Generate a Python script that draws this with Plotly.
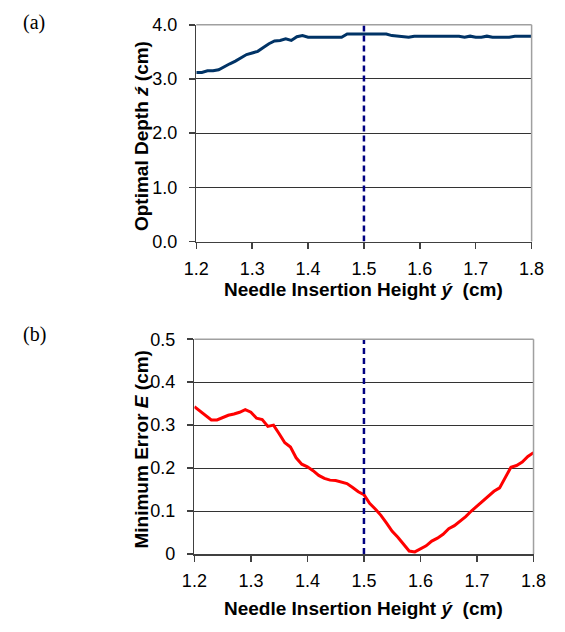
import plotly.graph_objects as go

PAGE_W, PAGE_H = 565, 632
BODY_MARGIN = 8          # default browser body margin around the plot div
W, H = PAGE_W - 2 * BODY_MARGIN, PAGE_H - 2 * BODY_MARGIN

height_y = [1.20, 1.21, 1.22, 1.23, 1.24, 1.25, 1.26, 1.27, 1.28, 1.29,
            1.30, 1.31, 1.32, 1.33, 1.34, 1.35, 1.36, 1.37, 1.38, 1.39,
            1.40, 1.41, 1.42, 1.43, 1.44, 1.45, 1.46, 1.47, 1.48, 1.49,
            1.50, 1.51, 1.52, 1.53, 1.54, 1.55, 1.56, 1.57, 1.58, 1.59,
            1.60, 1.61, 1.62, 1.63, 1.64, 1.65, 1.66, 1.67, 1.68, 1.69,
            1.70, 1.71, 1.72, 1.73, 1.74, 1.75, 1.76, 1.77, 1.78, 1.79,
            1.80]

optimal_depth = [3.12, 3.12, 3.15, 3.15, 3.17, 3.23, 3.28, 3.33, 3.39, 3.45,
                 3.48, 3.51, 3.58, 3.65, 3.70, 3.71, 3.74, 3.71, 3.78, 3.80,
                 3.77, 3.77, 3.77, 3.77, 3.77, 3.77, 3.77, 3.83, 3.83, 3.83,
                 3.83, 3.83, 3.83, 3.83, 3.83, 3.80, 3.79, 3.77, 3.77, 3.79,
                 3.79, 3.79, 3.79, 3.79, 3.79, 3.79, 3.79, 3.79, 3.77, 3.79,
                 3.77, 3.77, 3.79, 3.77, 3.77, 3.77, 3.77, 3.79, 3.79, 3.79,
                 3.79]

min_error = [0.343, 0.332, 0.322, 0.312, 0.312, 0.318, 0.323, 0.326, 0.330, 0.336,
             0.330, 0.316, 0.313, 0.297, 0.300, 0.280, 0.259, 0.249, 0.224, 0.209,
             0.203, 0.194, 0.183, 0.176, 0.172, 0.171, 0.168, 0.164, 0.155, 0.145,
             0.138, 0.118, 0.105, 0.090, 0.072, 0.053, 0.039, 0.024, 0.007, 0.005,
             0.013, 0.019, 0.030, 0.037, 0.046, 0.059, 0.066, 0.076, 0.087, 0.100,
             0.111, 0.124, 0.133, 0.146, 0.154, 0.178, 0.202, 0.206, 0.214, 0.227,
             0.236]

marker_x = 1.5

x_ticks = [1.2, 1.3, 1.4, 1.5, 1.6, 1.7, 1.8]
x_ticktext = ["1.2", "1.3", "1.4", "1.5", "1.6", "1.7", "1.8"]
depth_ticks = [0, 1, 2, 3, 4]
depth_ticktext = ["0.0", "1.0", "2.0", "3.0", "4.0"]
error_ticks = [0, 0.1, 0.2, 0.3, 0.4, 0.5]
error_ticktext = ["0", "0.1", "0.2", "0.3", "0.4", "0.5"]

FONT = "Liberation Sans, Arial, sans-serif"
SERIF = "Liberation Serif, Times New Roman, serif"

def px_x(p):
    return (p - BODY_MARGIN) / W

def px_y(p):
    return 1 - (p - BODY_MARGIN) / H

fig = go.Figure()

fig.add_trace(go.Scatter(x=height_y, y=optimal_depth, mode="lines",
                         line=dict(color="#003366", width=3),
                         xaxis="x", yaxis="y", showlegend=False, hoverinfo="skip"))
fig.add_trace(go.Scatter(x=height_y, y=min_error, mode="lines",
                         line=dict(color="#ff0000", width=3),
                         xaxis="x2", yaxis="y2", showlegend=False, hoverinfo="skip"))

# dashed markers at y' = 1.5
fig.add_trace(go.Scatter(x=[marker_x, marker_x], y=[0, 4], mode="lines",
                         line=dict(color="#000080", width=2.5, dash="6px,4px"),
                         xaxis="x", yaxis="y", showlegend=False, hoverinfo="skip"))
fig.add_trace(go.Scatter(x=[marker_x, marker_x], y=[0, 0.5], mode="lines",
                         line=dict(color="#000080", width=2.5, dash="6px,4px"),
                         xaxis="x2", yaxis="y2", showlegend=False, hoverinfo="skip"))

tickfont = dict(family=FONT, size=18, color="black")

common_x = dict(range=[1.2, 1.8], tickvals=x_ticks, ticktext=x_ticktext,
                ticks="outside", ticklen=6, tickwidth=1.5, tickcolor="#404040",
                ticklabelstandoff=4,
                showline=True, linecolor="#404040", linewidth=1.5,
                showgrid=False, zeroline=False, tickfont=tickfont, fixedrange=True)
common_y = dict(ticks="outside", ticklen=6, tickwidth=1.5, tickcolor="#404040",
                ticklabelstandoff=8,
                showline=True, linecolor="#404040", linewidth=1.5,
                showgrid=True, gridcolor="#333333", gridwidth=1,
                zeroline=False, tickfont=tickfont, fixedrange=True)

fig.update_layout(
    width=W, height=H,
    margin=dict(l=0, r=0, t=0, b=0),
    paper_bgcolor="white", plot_bgcolor="white",
    hovermode=False,
    xaxis=dict(domain=[px_x(192), px_x(544)], anchor="y", **common_x),
    yaxis=dict(domain=[px_y(239), px_y(15)], anchor="x", range=[0, 4],
               tickvals=depth_ticks, ticktext=depth_ticktext, **common_y),
    xaxis2=dict(domain=[px_x(190), px_x(546)], anchor="y2", **common_x),
    yaxis2=dict(domain=[px_y(562), px_y(340)], anchor="x2", range=[0, 0.5],
                tickvals=error_ticks, ticktext=error_ticktext, **common_y),
)

# gray plot-area border (top and right)
for xr, yr in (("x", "y"), ("x2", "y2")):
    fig.add_shape(type="line", xref=xr + " domain", yref=yr + " domain",
                  x0=0, x1=1, y0=1, y1=1, line=dict(color="#a0a0a0", width=1.5))
    fig.add_shape(type="line", xref=xr + " domain", yref=yr + " domain",
                  x0=1, x1=1, y0=0, y1=1, line=dict(color="#a0a0a0", width=1.5))

titlefont = dict(family=FONT, size=19, color="black")
NB = "\u00a0"
anns = [
    dict(text="<b>Needle Insertion Height <i>ý</i>" + NB + NB + "(cm)</b>",
         x=px_x(368), y=px_y(289)),
    dict(text="<b>Needle Insertion Height <i>ý</i>" + NB + NB + "(cm)</b>",
         x=px_x(368), y=px_y(618)),
    dict(text="<b>Optimal Depth <i>ź</i>" + NB + "(cm)</b>",
         x=px_x(134), y=px_y(130), textangle=-90),
    dict(text="<b>Minimum Error <i>E</i>" + NB + "(cm)</b>",
         x=px_x(135), y=px_y(453), textangle=-90),
]
for a in anns:
    fig.add_annotation(xref="paper", yref="paper", showarrow=False,
                       xanchor="center", yanchor="middle", font=titlefont, **a)

fig.add_annotation(text="(a)", xref="paper", yref="paper", x=px_x(22), y=px_y(13),
                   showarrow=False, xanchor="center", yanchor="middle",
                   font=dict(family=SERIF, size=20, color="black"))
fig.add_annotation(text="(b)", xref="paper", yref="paper", x=px_x(22), y=px_y(335),
                   showarrow=False, xanchor="center", yanchor="middle",
                   font=dict(family=SERIF, size=20, color="black"))

fig.write_html("out.html", config={"displayModeBar": False, "staticPlot": True})
